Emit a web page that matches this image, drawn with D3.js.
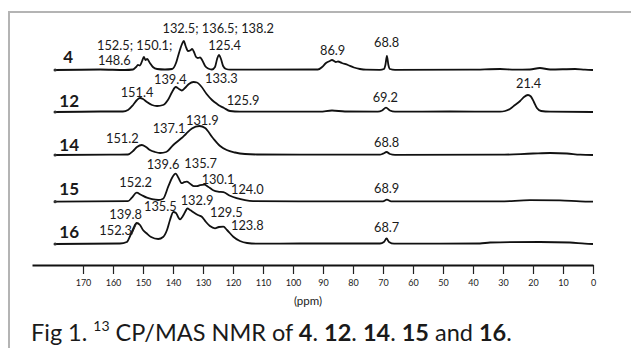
<!DOCTYPE html>
<html><head><meta charset="utf-8">
<script src="https://cdn.jsdelivr.net/npm/d3@7/dist/d3.min.js"></script>
<style>
html,body{margin:0;padding:0;background:#fff;}
svg{display:block;}
text{font-family:Lato,"Open Sans",sans-serif;fill:#1a1a1a;}
</style></head><body>
<svg id="c" width="631" height="348"></svg>
<script>
// ---------- DATA ----------
const compounds = ["4", "12", "14", "15", "16"];
const axisTicks = [170,160,150,140,130,120,110,100,90,80,70,60,50,40,30,20,10,0];

// spectra: ppm / intensity pairs
const ppm4 = [179.3,164.3,156,153.3,152.3,151.7,151,150.3,149.7,149.2,148.6,147.7,146.7,145.3,142.7,140.3,139,138.3,137.7,137,136.4,135.8,135,134.3,133.6,133,132.3,131.7,131,130.3,129.3,128.3,127,126,125.3,124.7,124,123.3,122.3,121,91.7,90.3,89,87.7,87,86.3,85.7,85,83.7,81.7,79.7,77.7,75.7,71,69.7,69.2,68.7,68.2,67.7,66,41,31,26,21,17.7,14.3,6,2.7,0];
const int4 = [0,0.5,0,0.5,3,5,4.5,9,13,10,11,7,3,1,0.5,1,7,14,20,26,29,24,19,19.5,21,18,13,12,12.5,10,4,1.5,0.5,3,11,15,11,4,1,0.3,0.5,3,7,9,10,9,8,8.5,7,5,2.5,1,0.3,0.2,1,5,14,5,1,0.2,0.3,1,0.3,0.5,2,0.5,1,0.3,0];

const ppm12 = [179.3,164.3,156.7,155,153.3,152,151,150,148.7,147,145.3,143.3,141.7,140.3,139.1,138,137.1,136,134.7,133.2,132,130.7,128.8,127,125.3,124.3,123,121,117.7,91,87,82.7,71.7,70.3,69,67.7,66,47.7,31,29.3,27.7,26,24.3,23,21.7,20.7,19.7,18.7,17.3,14.3,0];
const int12 = [0,0.5,0.5,2,7,12,14,13,10,7,6,7,12,20,25,23,21.5,24,28,30,29.5,26,18,12,8,6,4,1,0.3,0.3,1.5,0.5,0.3,1.5,4.3,1.5,0.3,0.5,0.3,1,3,7,11,15,17,15.5,10,4,1,0.3,0];

const ppm14 = [179.3,161,155,153.3,152,150.4,149,147.7,146,144.3,142.3,139.9,138.3,137.1,135.7,133.7,131.2,129.3,126.7,124.3,122.1,119.3,116,112,97.7,71,70,68.8,67.7,66,31,20,14.3,8.7,4.3,0];
const int14 = [0,0.3,0.5,4,8,10,8,5,3,2,3,10,14,17,21,26.5,29,27,17,9,5,2.5,1,0.5,0.3,0.3,1.3,3,1,0.2,0.3,1.5,2,1.5,0.3,0];

const ppm15 = [179.3,155,153.7,152.1,150.7,148.7,147,144.9,143.3,141.6,140.3,139.1,138.2,137.1,136.3,135.4,134.3,133,132,131,129.6,128.3,126.6,125,123.2,121,118.8,116,113.3,97.7,70,68.7,67.3,47.7,31,21,11,4.3,0];
const int15 = [0,0.5,4,9,7,4,2.5,1.7,3,15,24,28,24,18.5,19.5,20,18,15.5,15.5,16.5,17,15,11.5,10,9.5,6,3.5,1.5,0.6,0.3,0.3,2,0.3,0.3,0.3,1.5,1.3,0.3,0];

const ppm16 = [179.3,157.7,155.4,154.3,153.3,152.1,151,150,148.8,147.3,144.9,143.3,142,141,139.9,139,138.3,137.7,136.7,135.8,135.2,134.3,132.7,131.7,130.4,129,127.7,126,124.7,123.2,122,119.9,117.7,115.3,111,97.7,71,69.7,68.8,68,66.3,51,37.7,34.3,17.7,7.7,2.7,0];
const int16 = [0,0.5,2,8,15,21,19,14,10.7,7,5,7,14,24,32,31,27,24.7,28,33,35.7,34,30.7,29,27.3,22,18,15.7,17,17.3,14,7.3,3,1,0.3,0.5,0.5,2,5.5,2,0.3,0.3,0.5,1.5,2,1.5,0.3,0];

const peakLabels4  = ["152.5; 150.1;", "148.6", "132.5; 136.5; 138.2", "125.4", "86.9", "68.8"];
const peakLabels12 = ["151.4", "139.4", "133.3", "125.9", "69.2", "21.4"];
const peakLabels14 = ["151.2", "137.1", "131.9", "68.8"];
const peakLabels15 = ["152.2", "139.6", "135.7", "130.1", "124.0", "68.9"];
const peakLabels16 = ["139.8", "152.3", "135.5", "132.9", "129.5", "123.8", "68.7"];

// ---------- LAYOUT ----------
const svg = d3.select("#c");
const baselines = [70, 112, 155, 201.7, 244];
const nameX = [63.3, 59.3, 59.3, 59.3, 59.3];
const nameY = [63, 107, 150.7, 195, 238.3];
// label anchor positions (left, baseline) in px
const labelPos = [
  [[97,50],[98,65],[162.5,33.3],[208.3,50],[320,55],[374,46.7]],
  [[120.7,97.3],[154,84],[205,83.3],[226.7,105],[372.7,101.7],[516,88.3]],
  [[106,142.7],[152.7,132.7],[186,124.5],[374,146.7]],
  [[119.3,186.7],[146.7,169.3],[184.3,168.3],[201.7,184.3],[231,194],[374,192.7]],
  [[109.3,219.3],[99.3,235],[144,210.7],[180.7,205],[210,217.3],[231,230],[374,231.7]]
];

// frame
svg.append("path").attr("d","M631,12 H9 V348").attr("fill","none")
   .attr("stroke","#b4b4b4").attr("stroke-width",2);

const x = d3.scaleLinear().domain([187, 0]).range([32, 593]);
const y = d3.scaleLinear().domain([0, 40]).range([0, -40]);

const spectra = [[ppm4,int4],[ppm12,int12],[ppm14,int14],[ppm15,int15],[ppm16,int16]];
const labels = [peakLabels4, peakLabels12, peakLabels14, peakLabels15, peakLabels16];
const line = d3.line().x(d => x(d[0])).y(d => y(d[1])).curve(d3.curveMonotoneX);

spectra.forEach((s, i) => {
  const g = svg.append("g").attr("transform", `translate(0,${baselines[i]})`);
  const pts = s[0].map((p, k) => [p, s[1][k]]);
  g.append("path").datum(pts).attr("d", line)
    .attr("fill","none").attr("stroke","#111").attr("stroke-width",1.8)
    .attr("stroke-linejoin","round");
  g.append("circle").attr("cx", x(s[0][0])).attr("cy", 0).attr("r", 1.6).attr("fill","#333");
  svg.append("text").attr("x", nameX[i]).attr("y", nameY[i])
    .attr("font-size", 17).attr("font-weight", "bold").text(compounds[i]);
  labels[i].forEach((t, k) => {
    svg.append("text").attr("x", labelPos[i][k][0]).attr("y", labelPos[i][k][1])
      .attr("font-size", 12.8).text(t);
  });
});
// leader for 152.3
svg.append("line").attr("x1",131.5).attr("y1",235).attr("x2",136.5).attr("y2",223.5)
  .attr("stroke","#222").attr("stroke-width",1);

// axis
const axis = d3.axisBottom(x).tickValues(axisTicks).tickSize(9).tickSizeOuter(0).tickPadding(6);
const ag = svg.append("g").attr("transform","translate(0,265)").call(axis);
ag.select(".domain").attr("stroke","#111").attr("stroke-width",2.2);
ag.selectAll(".tick line").attr("stroke","#222").attr("stroke-width",1.2);
ag.selectAll(".tick text").attr("font-family","Lato").attr("font-size",9).attr("fill","#1a1a1a");

svg.append("text").attr("x",308).attr("y",305).attr("text-anchor","middle")
  .attr("font-size",11.5).text("(ppm)");

// caption
const cap = svg.append("text").attr("x",31).attr("y",341).attr("font-size",23.5);
cap.append("tspan").text("Fig 1. ");
cap.append("tspan").attr("font-size",14).attr("dy",-10).text("13");
cap.append("tspan").attr("dy",10).text(" CP/MAS NMR of ");
cap.append("tspan").attr("font-weight","bold").text("4");
cap.append("tspan").text(". ");
cap.append("tspan").attr("font-weight","bold").text("12");
cap.append("tspan").text(". ");
cap.append("tspan").attr("font-weight","bold").text("14");
cap.append("tspan").text(". ");
cap.append("tspan").attr("font-weight","bold").text("15");
cap.append("tspan").text(" and ");
cap.append("tspan").attr("font-weight","bold").text("16");
cap.append("tspan").text(".");
</script>
</body></html>
